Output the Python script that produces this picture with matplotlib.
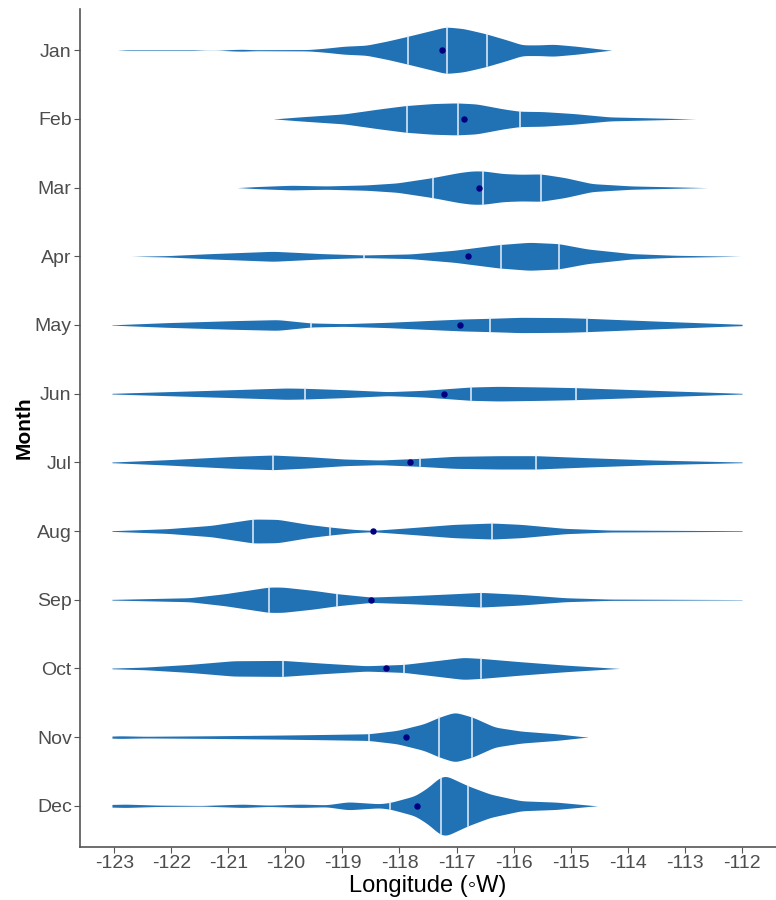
import numpy as np
import matplotlib
matplotlib.use('Agg')
import matplotlib.pyplot as plt

# Month labels, top to bottom
months = ['Jan', 'Feb', 'Mar', 'Apr', 'May', 'Jun',
          'Jul', 'Aug', 'Sep', 'Oct', 'Nov', 'Dec']

# Quartiles and mean longitude per month
q1 = [-117.85, -117.87, -117.42, -118.62, -119.55, -119.65,
      -120.22, -120.56, -120.29, -120.04, -118.54, -118.16]
med = [-117.17, -116.98, -116.53, -116.22, -116.41, -116.74,
       -117.64, -119.22, -119.09, -117.92, -117.30, -117.28]
q3 = [-116.47, -115.89, -115.52, -115.21, -114.71, -114.90,
      -115.60, -116.37, -116.57, -116.57, -116.72, -116.80]
means = [-117.25, -116.87, -116.60, -116.80, -116.94, -117.22,
         -117.81, -118.47, -118.50, -118.23, -117.88, -117.70]

# Violin outlines: (longitude, relative density) pairs
jan_shape = [(-122.93, 0), (-122.8, 1), (-121.6, 1), (-121.42, 0.2), (-121.15, 0.2),
             (-120.95, 2), (-120.75, 3), (-120.55, 1.5), (-119.6, 2), (-119.3, 6),
             (-118.97, 12), (-118.58, 15), (-118.2, 28), (-117.85, 42), (-117.42, 60),
             (-117.19, 70), (-116.88, 65), (-116.5, 50), (-116.1, 30), (-115.85, 16),
             (-115.55, 16), (-115.3, 18), (-114.9, 12), (-114.55, 5), (-114.3, 0)]
feb_shape = [(-120.2, 0), (-119.75, 6), (-118.97, 15), (-118.35, 30), (-117.89, 40),
             (-117.42, 46), (-117.0, 48), (-116.65, 45), (-116.18, 30), (-115.9, 23),
             (-115.49, 22), (-114.94, 16), (-114.32, 6), (-113.55, 3), (-112.82, 0)]
mar_shape = [(-120.83, 0), (-120.52, 3), (-119.9, 7), (-119.28, 5), (-118.58, 8),
             (-118.04, 14), (-117.42, 30), (-116.96, 45), (-116.73, 50), (-116.53, 50),
             (-116.18, 42), (-115.87, 40), (-115.52, 41), (-115.1, 30), (-114.63, 12),
             (-113.94, 5), (-112.62, 0)]
apr_shape = [(-122.69, 0), (-122.07, 2), (-121.3, 8), (-120.21, 15), (-119.36, 8),
             (-118.62, 4), (-117.81, 7), (-117.04, 18), (-116.26, 35), (-115.72, 42),
             (-115.21, 38), (-114.71, 22), (-113.93, 8), (-113.16, 3), (-112.03, 0)]
may_shape = [(-123.04, 0.5), (-122.07, 7), (-120.91, 13), (-120.13, 16), (-119.55, 6),
             (-118.97, 4), (-118.2, 8), (-117.42, 14), (-116.88, 18), (-116.41, 20),
             (-115.87, 23), (-115.1, 22), (-114.71, 20), (-113.55, 12), (-112.62, 6),
             (-112.0, 2)]
jun_shape = [(-123.04, 1), (-122.07, 6), (-120.91, 12), (-119.98, 17), (-119.65, 16),
             (-118.97, 12), (-118.2, 6), (-117.57, 10), (-116.75, 20), (-116.26, 22),
             (-115.48, 20), (-114.9, 18), (-113.55, 10), (-112.0, 1)]
jul_shape = [(-123.04, 1), (-122.07, 8), (-120.91, 18), (-120.22, 22), (-119.6, 17),
             (-118.97, 10), (-118.35, 7), (-117.64, 12), (-117.04, 18), (-116.26, 20),
             (-115.6, 20), (-114.71, 14), (-113.55, 7), (-112.0, 1)]
aug_shape = [(-123.04, 1), (-122.07, 7), (-121.3, 17), (-120.56, 36), (-120.13, 35),
             (-119.6, 20), (-119.22, 12), (-118.81, 5), (-118.47, 2), (-117.81, 10),
             (-117.04, 20), (-116.37, 24), (-115.87, 20), (-115.1, 8), (-114.32, 3),
             (-112.0, 1)]
sep_shape = [(-123.04, 1), (-121.68, 6), (-121.06, 18), (-120.29, 38), (-120.05, 38),
             (-119.51, 28), (-119.09, 18), (-118.5, 8), (-117.81, 12), (-117.04, 18),
             (-116.57, 22), (-115.87, 16), (-115.1, 6), (-114.32, 2), (-112.0, 0.5)]
oct_shape = [(-123.04, 1), (-122.46, 4), (-121.68, 12), (-120.91, 23), (-120.04, 24),
             (-119.36, 16), (-118.58, 8), (-117.92, 12), (-117.42, 22), (-116.88, 33),
             (-116.57, 30), (-115.87, 20), (-115.1, 10), (-114.16, 0)]
nov_shape = [(-123.04, 3), (-122.9, 4), (-122.46, 2.5), (-121.3, 4), (-120.13, 6),
             (-119.28, 8), (-118.54, 10), (-118.04, 20), (-117.57, 40), (-117.3, 60),
             (-117.03, 75), (-116.72, 60), (-116.33, 30), (-115.87, 18), (-115.25, 10),
             (-114.71, 0)]
dec_shape = [(-123.04, 4), (-122.8, 5), (-122.22, 2), (-121.45, 1), (-120.75, 5),
             (-120.29, 2), (-119.74, 5), (-119.28, 3), (-118.9, 12), (-118.35, 6),
             (-118.16, 10), (-117.73, 30), (-117.5, 55), (-117.3, 85), (-117.19, 91),
             (-116.8, 60), (-116.41, 35), (-115.87, 15), (-115.25, 11), (-114.55, 0)]
shapes = [jan_shape, feb_shape, mar_shape, apr_shape, may_shape, jun_shape,
          jul_shape, aug_shape, sep_shape, oct_shape, nov_shape, dec_shape]

xticks = list(range(-123, -111))

fill_col = '#2171b5'
line_col = '#e6f0fa'
dot_col = '#000080'
sans = ['Liberation Sans', 'DejaVu Sans']


# Turn the read-off outline into a smooth violin edge
def smooth_profile(shape, step=0.005, sigma=0.06):
    xs = np.array([p[0] for p in shape])
    ws = np.array([p[1] for p in shape], dtype=float)
    grid = np.arange(xs[0], xs[-1] + step, step)
    w = np.interp(grid, xs, ws)
    k = np.arange(-4 * sigma, 4 * sigma + step, step)
    kern = np.exp(-0.5 * (k / sigma) ** 2)
    kern /= kern.sum()
    pad = len(k) // 2
    wp = np.concatenate([np.full(pad, w[0]), w, np.full(pad, w[-1])])
    ws_s = np.convolve(wp, kern, mode='same')[pad:pad + len(w)]
    return grid, ws_s


fig = plt.figure(figsize=(7.76, 9.0), dpi=100)
ax = fig.add_axes([80 / 776, 53 / 900, 696 / 776, 838 / 900])

scale = 1 / 206.0
for i, shape in enumerate(shapes):
    gx, gw = smooth_profile(shape)
    half = gw * scale
    ax.fill_between(gx, i - half, i + half, color=fill_col, linewidth=0, zorder=2)
    for q in (q1[i], med[i], q3[i]):
        h = np.interp(q, gx, half)
        ax.plot([q, q], [i - h, i + h], color=line_col, lw=1.1, zorder=3)
    ax.plot(means[i], i, 'o', color=dot_col, ms=3.6, zorder=4)

ax.set_xlim(-123.6, -111.4)
ax.set_ylim(11.6, -0.6)
ax.set_yticks(range(len(months)))
ax.set_yticklabels(months)
ax.set_xticks(xticks)
ax.set_xticklabels([str(v) for v in xticks])

for s in ('top', 'right'):
    ax.spines[s].set_visible(False)
for s in ('left', 'bottom'):
    ax.spines[s].set_color('#555555')
    ax.spines[s].set_linewidth(1.2)

ax.tick_params(axis='both', colors='#555555', length=4, width=0.8, labelsize=14,
               labelcolor='#4d4d4d', pad=2)
for lab in ax.get_xticklabels() + ax.get_yticklabels():
    lab.set_family(sans)

ax.set_xlabel('Longitude (\u25e6W)', fontsize=17, color='black',
              family=sans, labelpad=2)
ax.set_ylabel('Month', fontsize=15, fontweight='bold', color='black',
              family=['Liberation Sans Narrow', 'DejaVu Sans Condensed', 'Liberation Sans'],
              labelpad=1)

fig.savefig('out.png', dpi=100)
